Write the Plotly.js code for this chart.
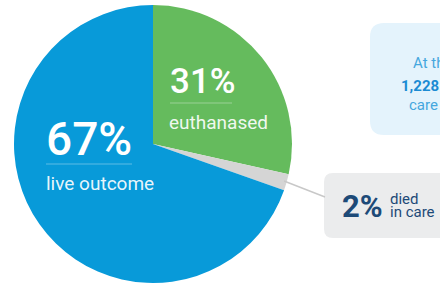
<!DOCTYPE html>
<html>
<head>
<meta charset="utf-8">
<script src="https://cdn.plot.ly/plotly-3.0.1.min.js"></script>
<style>html,body{margin:0;padding:0;background:#fff;overflow:hidden}#chart{width:440px;height:286px}</style>
</head>
<body>
<div id="chart"></div>
<script>
// Data (slice angles; labels as printed)
const categories = ["euthanased", "died in care", "live outcome"];
const sliceValues = [28.5, 1.9, 69.6];
const pctLabels = ["31%", "2%", "67%"];
const sliceColors = ["#65bb5d", "#d5d5d5", "#089ad9"];
const infoLines = ["At the", "1,228", "care"];
const diedLines = ["died", "in care"];

const W = 440, H = 286;
const px = x => x / W;
const py = y => 1 - y / H;

function roundRect(x0, y0, x1, y1, r) {
  const rx = r / W, ry = r / H;
  const a = px(x0), b = px(x1), t = py(y0), u = py(y1);
  return `M${a + rx},${t} L${b - rx},${t} Q${b},${t} ${b},${t - ry} L${b},${u + ry} Q${b},${u} ${b - rx},${u} L${a + rx},${u} Q${a},${u} ${a},${u + ry} L${a},${t - ry} Q${a},${t} ${a + rx},${t} Z`;
}

const trace = {
  type: "pie",
  labels: categories,
  values: sliceValues,
  sort: false,
  direction: "clockwise",
  rotation: 0,
  marker: { colors: sliceColors, line: { width: 0 } },
  textinfo: "none",
  hoverinfo: "none",
  domain: { x: [px(153 - 139), px(153 + 139)], y: [py(144 + 139), py(144 - 139)] }
};

const shapes = [
  { type: "path", xref: "paper", yref: "paper", path: roundRect(370, 23, 470, 135, 14), fillcolor: "#e4f3fc", line: { width: 0 }, layer: "below" },
  { type: "path", xref: "paper", yref: "paper", path: roundRect(324, 173, 470, 238, 9), fillcolor: "#ebeced", line: { width: 0 }, layer: "below" },
  { type: "line", xref: "paper", yref: "paper", x0: px(284), y0: py(181), x1: px(325), y1: py(197), line: { color: "#c8c8c8", width: 1.5 } },
  { type: "line", xref: "paper", yref: "paper", x0: px(46), y0: py(164), x1: px(132), y1: py(164), line: { color: "rgba(255,255,255,0.35)", width: 1 } },
  { type: "line", xref: "paper", yref: "paper", x0: px(170), y0: py(103), x1: px(232), y1: py(103), line: { color: "rgba(255,255,255,0.35)", width: 1 } }
];

const ann = (text, x, y, size, color, weight, family) => ({
  text: text, xref: "paper", yref: "paper", x: px(x), y: py(y),
  xanchor: "left", yanchor: "middle", showarrow: false,
  font: { family: family || "Roboto, sans-serif", size: size, color: color, weight: weight || 400 }
});

const MED = "'Roboto Medium', Roboto, sans-serif";

const annotations = [
  ann(pctLabels[2], 44, 139, 46, "#ffffff", 500, MED),
  ann(categories[2], 44, 183, 19, "rgba(255,255,255,0.92)"),
  ann(pctLabels[0], 168, 81, 35, "#ffffff", 500, MED),
  ann(categories[0], 167, 122, 19, "rgba(255,255,255,0.92)"),
  ann(pctLabels[1], 340, 206, 31, "#1d4a78", 700),
  ann(diedLines[0], 388, 199, 15, "#1d4a78"),
  ann(diedLines[1], 388, 212, 15, "#1d4a78"),
  ann(infoLines[0], 411, 63, 15, "#45a7de"),
  ann(infoLines[1], 399, 86, 15, "#1b8bd3", 700),
  ann(infoLines[2], 407, 105, 15, "#45a7de")
];

Plotly.newPlot("chart", [trace], {
  width: W, height: H,
  margin: { l: 0, r: 0, t: 0, b: 0 },
  paper_bgcolor: "#ffffff",
  showlegend: false,
  shapes: shapes,
  annotations: annotations
}, { staticPlot: true });
</script>
</body>
</html>
